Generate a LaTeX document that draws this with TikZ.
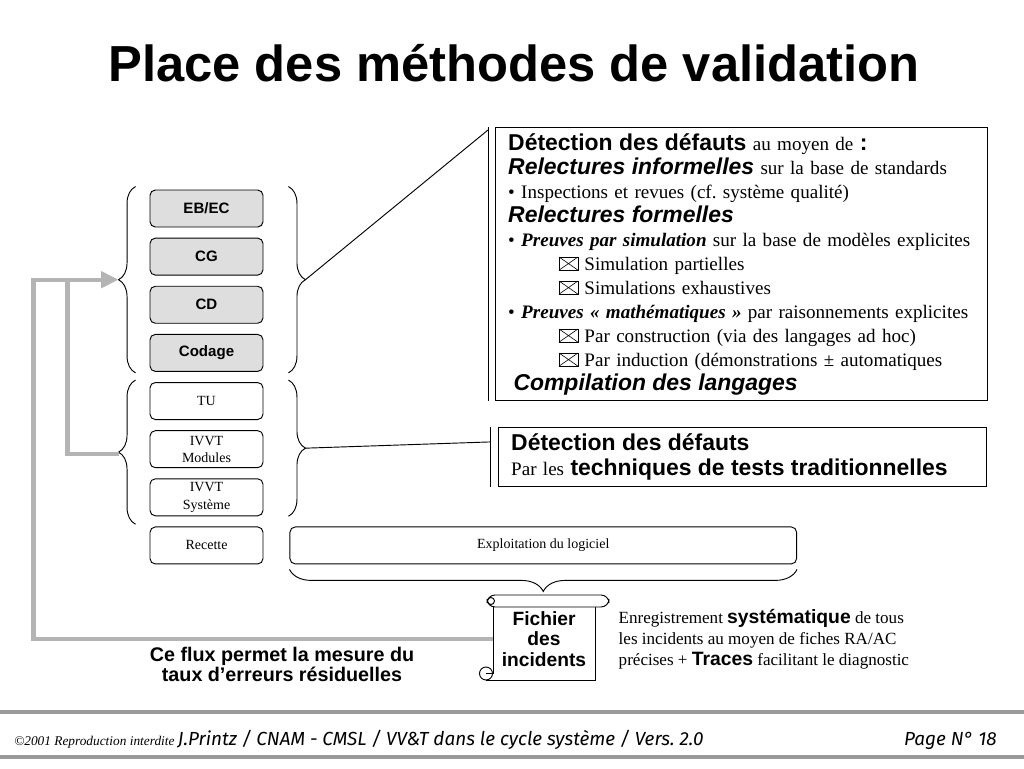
\documentclass[tikz,border=0pt]{standalone}
\usepackage{fontspec}
\setmainfont{Liberation Serif}
\setsansfont{Liberation Sans}
\newfontfamily\footfont{Fira Sans}
\usepackage{xcolor}
\usetikzlibrary{positioning,calc,arrows.meta,decorations.pathreplacing}
\definecolor{boxgray}{HTML}{DEDEDE}
\definecolor{fluxgray}{HTML}{B4B4B4}
\definecolor{rulegray}{HTML}{9A9A9A}
\frenchspacing
\newcommand{\casex}{\tikz[baseline=0pt,line width=0.45pt]{\draw (0,0) rectangle (14pt,9.75pt); \draw (0,0) -- (14pt,9.75pt) (0,9.75pt) -- (14pt,0);}}
\newcommand{\gros}{\sffamily\bfseries\fontsize{17.2}{18}\selectfont}

\begin{document}
\begin{tikzpicture}[x=0.75pt,y=-0.75pt,
  phase/.style={rectangle,draw,line width=0.7pt,rounded corners=4pt,minimum width=84.75pt,minimum height=27.75pt,inner sep=1pt,align=center,font=\fontsize{10.5}{13}\selectfont},
  amont/.style={phase,fill=boxgray,font=\sffamily\bfseries\fontsize{11.3}{13}\selectfont},
  brace/.style={decorate,decoration={brace,amplitude=12.75pt},line width=0.7pt},
  flux/.style={draw=fluxgray,line width=3.2pt},
  callout/.style={rectangle,draw,line width=0.8pt,anchor=north west,align=left,inner xsep=9.5pt},
  rule/.style={draw=rulegray,line width=3pt}
]
\useasboundingbox (0,0) rectangle (1024,768);

% titre
\node[font=\sffamily\bfseries\fontsize{38}{44}\selectfont] (titre) at (514,63) {Place des méthodes de validation};

% phases du cycle
\node[amont] (ebec) at (206.5,208.5) {EB/EC};
\node[amont,below=7.65pt of ebec] (cg) {CG};
\node[amont,below=7.65pt of cg] (cd) {CD};
\node[amont,below=7.65pt of cd] (codage) {Codage};
\node[phase,below=7.65pt of codage] (tu) {TU};
\node[phase,below=7.65pt of tu] (ivvtm) {IVVT\\Modules};
\node[phase,below=7.65pt of ivvtm] (ivvts) {IVVT\\Système};
\node[phase,below=7.65pt of ivvts] (recette) {Recette};
\node[phase,minimum width=380pt,right=19.5pt of recette] (exploit) {Exploitation du logiciel};

% accolades
\draw[brace] ($(codage.south west)+(-14,1)$) -- ($(ebec.north west)+(-14,-3)$);
\draw[brace] ($(ivvts.south west)+(-14,8)$) -- ($(tu.north west)+(-14,-2)$);
\draw[brace] ($(ebec.north east)+(25,-3)$) -- ($(codage.south east)+(25,1)$);
\draw[brace] ($(tu.north east)+(25,-2)$) -- ($(ivvts.south east)+(25,0)$);
\draw[brace,decoration={amplitude=16.5pt}] ($(exploit.south east)+(0,5)$) -- ($(exploit.south west)+(0,5)$);
\coordinate (tipA) at ($(codage.south west)!0.5!(ebec.north west)+(-31,-1)$);
\coordinate (tipB) at ($(ivvts.south west)!0.5!(tu.north west)+(-31,5)$);
\coordinate (tipC) at ($(ebec.north east)!0.5!(codage.south east)+(42,-1)$);
\coordinate (tipD) at ($(tu.north east)!0.5!(ivvts.south east)+(42,-1)$);

% boites de commentaires
\node[callout,minimum width=369pt,minimum height=204.75pt,text width=350pt,font=\fontsize{14.3}{18}\selectfont] (methodes) at (495,127) {%
{\gros Détection des défauts} au moyen de {\gros :}\\
{\gros\itshape Relectures informelles} sur la base de standards\\
• Inspections et revues (cf. système qualité)\\
{\gros\itshape Relectures formelles}\\
• {\bfseries\itshape Preuves par simulation} sur la base de modèles explicites\\
\hspace*{38pt}\casex\ Simulation partielles\\
\hspace*{38pt}\casex\ Simulations exhaustives\\
• {\bfseries\itshape Preuves « mathématiques »} par raisonnements explicites\\
\hspace*{38pt}\casex\ Par construction (via des langages ad hoc)\\
\hspace*{38pt}\casex\ Par induction (démonstrations ± automatiques\\
\hspace*{4pt}{\gros\itshape Compilation des langages}};
\node[callout,minimum width=365pt,minimum height=44pt,text width=347pt,font=\fontsize{14.3}{18.75}\selectfont] (tests) at (498,427) {%
{\gros Détection des défauts}\\
Par les {\gros techniques de tests traditionnelles}};
\coordinate (barA1) at ($(methodes.north west)+(-7,0)$);
\coordinate (barA2) at ($(methodes.south west)+(-7,0)$);
\coordinate (barB1) at ($(tests.north west)+(-8,0)$);
\coordinate (barB2) at ($(tests.south west)+(-8,0)$);
\draw[line width=0.7pt] (barA1) -- (barA2);
\draw[line width=0.7pt] (barB1) -- (barB2);
\draw[line width=0.7pt] (tipC) -- ($(barA1)+(0,3)$);
\draw[line width=0.7pt] (tipD) -- ($(barB1)!0.25!(barB2)$);

% fichier des incidents (parchemin)
\draw[line width=0.7pt,fill=white] (493,606) -- (493,668) (595,606) -- (595,680) -- (486,680);
\draw[line width=0.7pt,fill=white] (486,680) arc[start angle=90,end angle=450,radius=6.5] ;
\draw[line width=0.7pt] (486,673.5) -- (493,673.5) -- (493,668);
\draw[line width=0.7pt,fill=white,rounded corners=6pt] (487,595) rectangle (609,607);
\draw[line width=0.7pt] (491,601) circle[radius=3.5];
\node[minimum width=76.5pt,minimum height=55.5pt,inner sep=0pt,align=center,font=\sffamily\bfseries\fontsize{14.4}{15.4}\selectfont] (fichier) at (544,639) {Fichier\\des\\incidents};
\node[anchor=west,align=left,font=\fontsize{12.8}{15.75}\selectfont] (enreg) at (614,639) {Enregistrement {\sffamily\bfseries\fontsize{14.5}{15.75}\selectfont systématique} de tous\\les incidents au moyen de fiches RA/AC\\précises + {\sffamily\bfseries\fontsize{14.5}{15.75}\selectfont Traces} facilitant le diagnostic};
\node[align=center,font=\sffamily\bfseries\fontsize{14.8}{15}\selectfont] (mesure) at (282,664) {Ce flux permet la mesure du\\taux d’erreurs résiduelles};

% flux de retour
\draw[flux] (tipB) -| ($(tipA)+(-51,0)$);
\draw[flux,-{Triangle[length=13pt,width=12pt]}] (fichier.west) -| ($(tipA)+(-85,0)$) -- (tipA);

% pied de page
\draw[rule] (0,712) -- (1024,712);
\draw[rule] (0,757) -- (1024,757);
\node[anchor=base west,inner sep=0pt] (credit) at (14,745) {{\itshape\fontsize{10}{12}\selectfont ©2001 Reproduction interdite} {\footfont\itshape\fontsize{14.2}{16}\selectfont J.Printz / CNAM - CMSL / VV\&T dans le cycle système / Vers. 2.0}};
\node[anchor=base east,inner sep=0pt,font=\footfont\itshape\fontsize{14.2}{16}\selectfont] (page) at (997,745) {Page N° 18};
\end{tikzpicture}
\end{document}
